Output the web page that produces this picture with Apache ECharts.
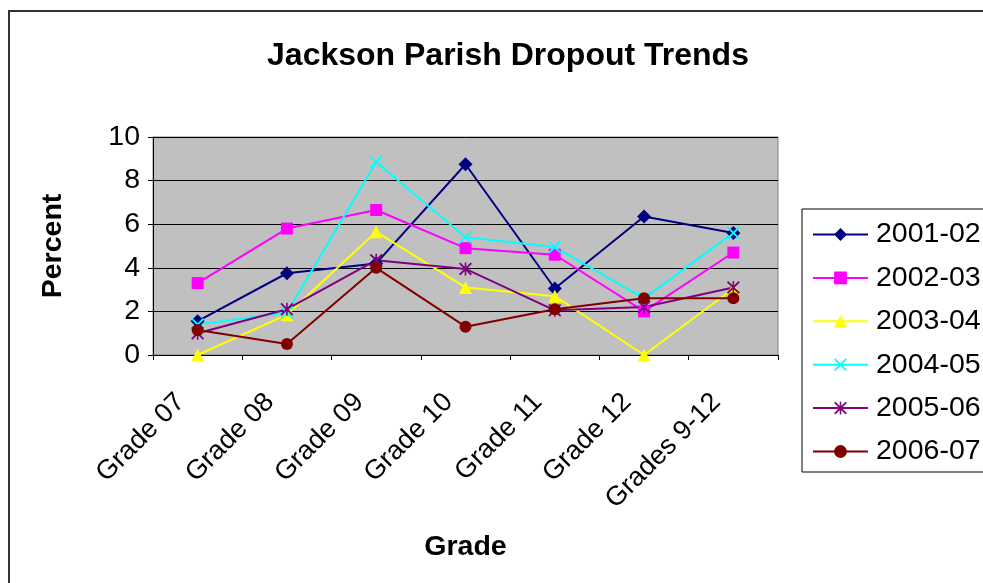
<!DOCTYPE html>
<html><head><meta charset="utf-8">
<script src="https://cdn.jsdelivr.net/npm/echarts@6/dist/echarts.min.js"></script>
<style>html,body{margin:0;padding:0;background:#fff}#c{width:983px;height:583px}</style>
</head><body><div id="c"></div>
<script>
const categories = ['Grade 07','Grade 08','Grade 09','Grade 10','Grade 11','Grade 12','Grades 9-12'];
const seriesNames = ['2001-02','2002-03','2003-04','2004-05','2005-06','2006-07'];
const s2001_02 = [1.55, 3.75, 4.2, 8.75, 3.05, 6.35, 5.6];
const s2002_03 = [3.3, 5.8, 6.65, 4.9, 4.6, 2.0, 4.7];
const s2003_04 = [0, 1.85, 5.65, 3.1, 2.7, 0, 3.05];
const s2004_05 = [1.4, 1.95, 8.85, 5.4, 4.95, 2.6, 5.6];
const s2005_06 = [1.0, 2.1, 4.35, 3.95, 2.05, 2.2, 3.1];
const s2006_07 = [1.15, 0.5, 4.0, 1.3, 2.1, 2.6, 2.6];
const yTicks = {min: 0, max: 10, interval: 2};

const values = [s2001_02, s2002_03, s2003_04, s2004_05, s2005_06, s2006_07];
const colors = ['#000080','#FF00FF','#FFFF00','#00FFFF','#800080','#800000'];
const X = 'path://M0,10L10,0L50,40L90,0L100,10L60,50L100,90L90,100L50,60L10,100L0,90L40,50Z';
const AST = 'path://M0,10L10,0L50,40L90,0L100,10L60,50L100,90L90,100L50,60L10,100L0,90L40,50ZM44,0L56,0L56,100L44,100Z';
const symbols = ['diamond','rect','triangle', X, AST, 'circle'];
const sizes = [14, 12, 13, 13, 13, 12];
const font = '"Liberation Sans", Arial, sans-serif';

const chart = echarts.init(document.getElementById('c'), null, {renderer:'canvas'});
chart.setOption({
  animation: false,
  backgroundColor: '#fff',
  title: {text: 'Jackson Parish Dropout Trends', left: 503, textAlign: 'center', top: 35,
    textStyle: {fontFamily: font, fontWeight: 'bold', fontSize: 32, color: '#000'}},
  graphic: [{type: 'rect', shape: {x: 9, y: 11, width: 1000, height: 600}, z: -10,
    style: {fill: 'none', stroke: '#333', lineWidth: 2}}],
  grid: {left: 153, top: 137, right: 205, bottom: 228, show: true, backgroundColor: '#C0C0C0', borderColor: '#808080', borderWidth: 1},
  legend: {orient: 'vertical', left: 802, top: 209, padding: [11, 200, 6, 10], itemGap: 14.4,
    itemWidth: 55, itemHeight: 16, backgroundColor: '#fff', borderColor: '#000', borderWidth: 1,
    textStyle: {fontFamily: font, fontSize: 28.5, color: '#000', padding: [0,0,0,3]},
    data: seriesNames},
  xAxis: {type: 'category', data: categories, boundaryGap: true,
    name: 'Grade', nameLocation: 'middle', nameGap: 178,
    nameTextStyle: {fontFamily: font, fontWeight: 'bold', fontSize: 28.5, color: '#000'},
    axisLine: {lineStyle: {color: '#000', width: 1}},
    axisTick: {show: true, length: 5, interval: 0, lineStyle: {color: '#000'}},
    axisLabel: {rotate: 45, interval: 0, margin: 26, padding: [0, 24, 0, 0], fontFamily: font, fontSize: 27, color: '#000'}},
  yAxis: {type: 'value', min: yTicks.min, max: yTicks.max, interval: yTicks.interval,
    name: 'Percent', nameLocation: 'middle', nameGap: 85, nameRotate: 90,
    nameTextStyle: {fontFamily: font, fontWeight: 'bold', fontSize: 28.5, color: '#000'},
    axisLine: {show: true, lineStyle: {color: '#000', width: 1}},
    axisTick: {show: true, length: 5, lineStyle: {color: '#000'}},
    axisLabel: {margin: 13, fontFamily: font, fontSize: 28.5, color: '#000'},
    splitLine: {show: true, lineStyle: {color: '#000', width: 1}}},
  series: seriesNames.map((n, i) => ({
    name: n, type: 'line', data: values[i], symbol: symbols[i], symbolSize: sizes[i],
    showAllSymbol: true,
    lineStyle: {color: colors[i], width: 2}, itemStyle: {color: colors[i]},
    emphasis: {disabled: true}
  }))
});
</script></body></html>
